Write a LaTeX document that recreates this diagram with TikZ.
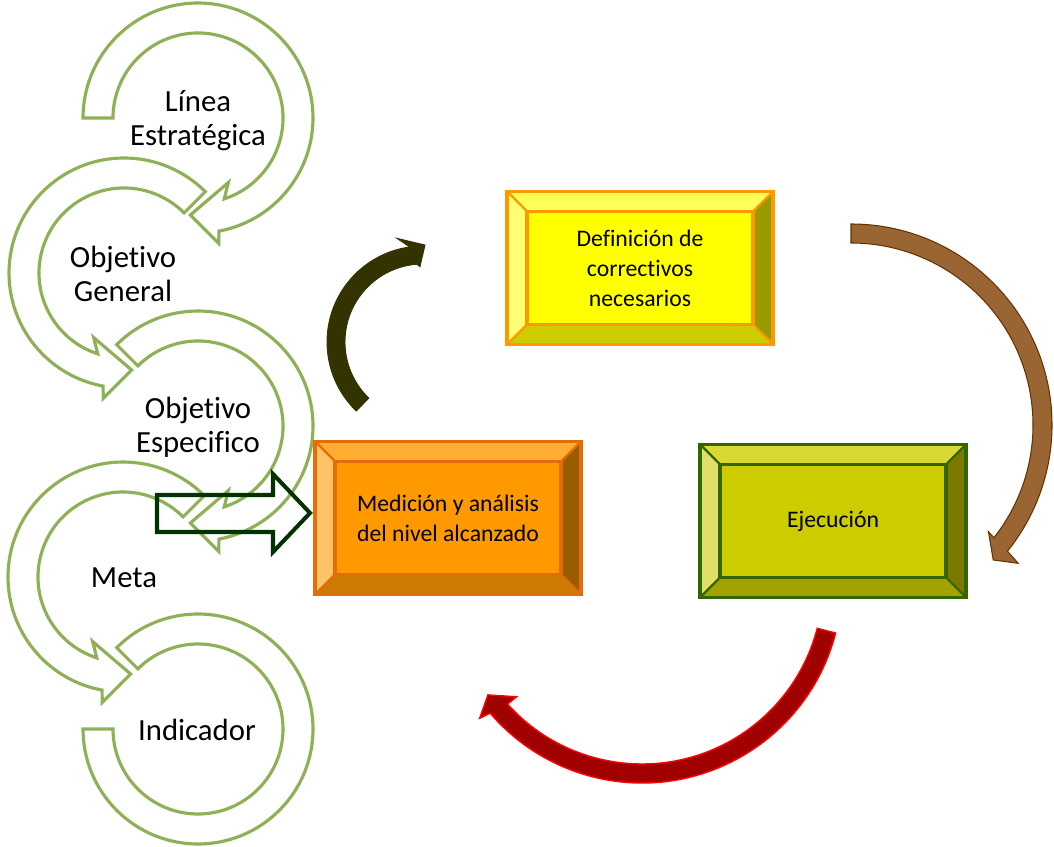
\documentclass[tikz,border=0pt]{standalone}
\usepackage{fontspec}
\setmainfont{Carlito}[Ligatures=NoCommon]
\newcommand{\ringfont}{\fontsize{17.5}{19.5}\selectfont}
\newcommand{\boxfont}{\fontsize{13.5}{17}\selectfont}
\definecolor{ringgreen}{HTML}{8EB157}
\definecolor{blockgreen}{HTML}{003300}
\definecolor{darkolive}{HTML}{333300}
\definecolor{brownfill}{HTML}{996633}
\definecolor{brownline}{HTML}{663300}
\definecolor{redfill}{HTML}{A00000}
\definecolor{redline}{HTML}{FF0000}
% yellow box
\definecolor{defface}{HTML}{FFFF00}
\definecolor{deftop}{HTML}{FFFF59}
\definecolor{defleft}{HTML}{FFFF73}
\definecolor{defright}{HTML}{999900}
\definecolor{defbottom}{HTML}{CCCC00}
\definecolor{defborder}{HTML}{FF9900}
% orange box
\definecolor{medface}{HTML}{FF9900}
\definecolor{medtop}{HTML}{FFAD33}
\definecolor{medleft}{HTML}{FFC266}
\definecolor{medright}{HTML}{995C00}
\definecolor{medbottom}{HTML}{CC7A00}
\definecolor{medborder}{HTML}{E46C0A}
% green box
\definecolor{ejeface}{HTML}{CCCC00}
\definecolor{ejetop}{HTML}{D9D933}
\definecolor{ejeleft}{HTML}{E0E066}
\definecolor{ejeright}{HTML}{7A7A00}
\definecolor{ejebottom}{HTML}{A3A300}
\definecolor{ejeborder}{HTML}{336600}
\tikzset{
	ring/.style={draw=ringgreen, fill=white, line width=1.8pt},
	ringtext/.style={align=center, font=\ringfont},
	frame/.style={minimum width=5.3cm, minimum height=3.04cm, inner sep=0pt},
	face/.style={minimum width=4.5cm, minimum height=2.24cm, inner sep=0pt, align=center, font=\boxfont},
	bevel/.style={line width=1.2pt, line join=round},
}
% green circular arrow, #4=1 clockwise, #4=-1 mirrored
\newcommand{\ringarrow}[4]{%
	\begin{scope}[shift={(#1,#2)}, xscale=#4]
		\draw[ring] (#3:115) arc[start angle=#3, end angle=439.5, radius=115]
			-- (440.6:127) -- (454.5:97.3) -- (424.8:71.3) -- (432:85)
			arc[start angle=432, end angle=#3, radius=85] -- cycle;
	\end{scope}}
% bevels of a box: frame, face, colour prefix
\newcommand{\bevels}[3]{%
	\filldraw[bevel, draw=#3border, fill=#3top] (#1.north west)--(#1.north east)--(#2.north east)--(#2.north west)--cycle;
	\filldraw[bevel, draw=#3border, fill=#3left] (#1.north west)--(#2.north west)--(#2.south west)--(#1.south west)--cycle;
	\filldraw[bevel, draw=#3border, fill=#3right] (#1.north east)--(#1.south east)--(#2.south east)--(#2.north east)--cycle;
	\filldraw[bevel, draw=#3border, fill=#3bottom] (#1.south west)--(#2.south west)--(#2.south east)--(#1.south east)--cycle;
	\draw[#3border, line width=2pt] (#2.north west) rectangle (#2.south east);
	\draw[#3border, line width=2pt] (#1.north west) rectangle (#1.south east);}
\begin{document}
\begin{tikzpicture}[x=0.02cm, y=-0.02cm]
	\useasboundingbox (0,0) rectangle (1054,847);
	% left column
	\ringarrow{198}{118}{180}{1}
	\ringarrow{124}{273}{225}{-1}
	\ringarrow{198}{426}{225}{1}
	\ringarrow{123}{577}{225}{-1}
	\draw[ring] (198,729) ++(225:115) arc[start angle=225, end angle=540, radius=115]
		-- ++(30,0) arc[start angle=540, end angle=225, radius=85] -- cycle;
	\node[ringtext] at (198,121)(linea){Línea\\Estratégica};
	\node[ringtext] at (123,274)(general){Objetivo\\General};
	\node[ringtext] at (198,427)(especifico){Objetivo\\Especifico};
	\node[ringtext] at (124,578)(meta){Meta};
	\node[ringtext] at (197,730)(indicador){Indicador};
	\draw[blockgreen, line width=2.3pt] (157,495) -- (273,495) -- (273,474) -- (310,513)
		-- (273,552) -- (273,532) -- (157,532) -- cycle;
	% boxes
	\node[frame] at (640,268)(defframe){};
	\node[face, fill=defface] at (defframe)(def){Definición de\\correctivos\\necesarios};
	\bevels{defframe}{def}{def}
	\node[frame] at (448,518)(medframe){};
	\node[face, fill=medface] at (medframe)(med){Medición y análisis\\del nivel alcanzado};
	\bevels{medframe}{med}{med}
	\node[frame] at (833,521)(ejeframe){};
	\node[face, fill=ejeface] at (ejeframe)(eje){Ejecución};
	\bevels{ejeframe}{eje}{eje}
	% cycle arrows
	\coordinate (olivec) at (423,342);
	\coordinate (brownc) at (851,425);
	\coordinate (redc) at (642,583);
	\begin{scope}[shift={(olivec)}]
		\filldraw[fill=darkolive, draw=darkolive, line width=0.5pt] (134:96) arc[start angle=134, end angle=262, radius=96]
			-- (255.8:107) -- (271.2:97) -- (267.7:75.4) -- (265.4:78) arc[start angle=265.4, end angle=134, radius=78] -- cycle;
	\end{scope}
	\begin{scope}[shift={(brownc)}]
		\filldraw[fill=brownfill, draw=brownline, line width=0.6pt] (270:201) arc[start angle=270, end angle=398.9, radius=201]
			-- (399.6:217) -- (403.5:196.1) -- (397.8:173.9) -- (398.3:182) arc[start angle=398.3, end angle=270, radius=182] -- cycle;
	\end{scope}
	\begin{scope}[shift={(redc)}]
		\filldraw[fill=redfill, draw=redline, line width=0.8pt] (14.5:200) arc[start angle=14.5, end angle=139.4, radius=200]
			-- (140.2:211.3) -- (144:190.4) -- (137.8:169.4) -- (138:181) arc[start angle=138, end angle=14.5, radius=181] -- cycle;
	\end{scope}
\end{tikzpicture}
\end{document}
